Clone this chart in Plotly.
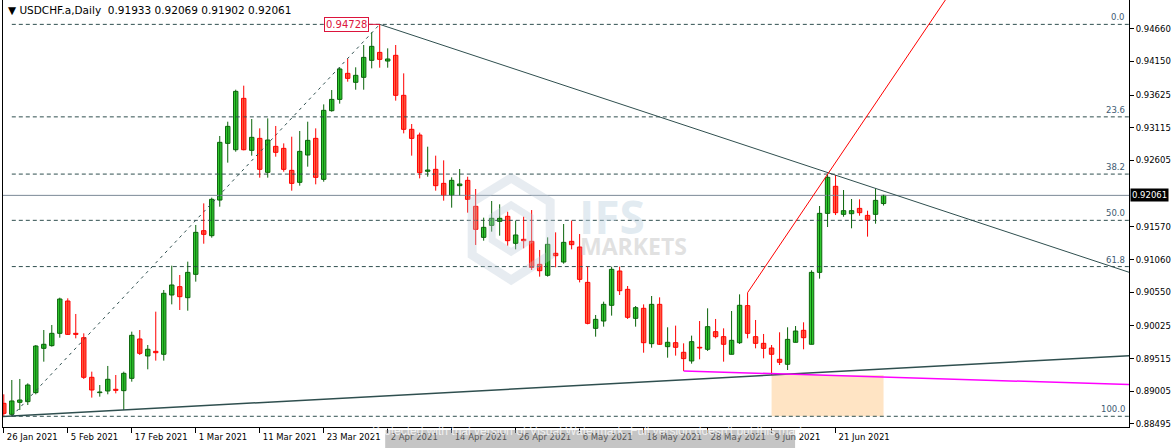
import plotly.graph_objects as go
import pandas as pd

# ---------------- data ----------------
dates = [d.strftime("%d %b %Y").lstrip("0") for d in pd.bdate_range("2021-01-26", "2021-06-29")]

opens = [0.88817, 0.88646, 0.88833, 0.88843, 0.88984, 0.89675, 0.89717, 0.89909, 0.90413, 0.89909,
         0.89841, 0.89223, 0.88984, 0.89010, 0.89036, 0.89015, 0.89207, 0.89821, 0.89556, 0.89628,
         0.89582, 0.90507, 0.90637, 0.90465, 0.90829, 0.91510, 0.91432, 0.91988, 0.92872, 0.92773,
         0.93574, 0.92763, 0.92950, 0.92420, 0.92825, 0.92794, 0.92451, 0.92264, 0.92690, 0.92950,
         0.92311, 0.93382, 0.93558, 0.93964, 0.93824, 0.93902, 0.94167, 0.94291, 0.94156, 0.94245,
         0.93621, 0.93091, 0.93002, 0.92436, 0.92467, 0.92248, 0.92061, 0.92212, 0.92295, 0.91890,
         0.91406, 0.91593, 0.91656, 0.91734, 0.91313, 0.91375, 0.91344, 0.90985, 0.90814, 0.91157,
         0.91021, 0.91344, 0.91255, 0.90704, 0.89987, 0.90101, 0.90346, 0.90881, 0.90595, 0.90143,
         0.90299, 0.89748, 0.90361, 0.89701, 0.89763, 0.89613, 0.89478, 0.89691, 0.89660, 0.89935,
         0.89857, 0.89582, 0.89763, 0.90341, 0.89857, 0.89753, 0.89680, 0.89504, 0.89426, 0.89769,
         0.89956, 0.89738, 0.90860, 0.91780, 0.92202, 0.91765, 0.91775, 0.91858, 0.91749, 0.91765,
         0.91933]
highs = [0.88958, 0.89181, 0.89197, 0.89129, 0.89727, 0.89961, 0.90039, 0.90465, 0.90455, 0.90211,
         0.89909, 0.89311, 0.89103, 0.89400, 0.89259, 0.89311, 0.89935, 0.89961, 0.89727, 0.90247,
         0.90585, 0.90964, 0.90819, 0.91027, 0.91599, 0.91936, 0.92025, 0.92987, 0.93210, 0.93709,
         0.93772, 0.93252, 0.93106, 0.93262, 0.93143, 0.92872, 0.92976, 0.93065, 0.93210, 0.93106,
         0.93480, 0.93704, 0.94058, 0.94188, 0.94058, 0.94406, 0.94603, 0.94728, 0.94354, 0.94406,
         0.93964, 0.93174, 0.93039, 0.92820, 0.92680, 0.92607, 0.92342, 0.92472, 0.92352, 0.92160,
         0.91713, 0.91973, 0.91921, 0.91806, 0.91666, 0.91728, 0.91832, 0.91209, 0.91406, 0.91484,
         0.91614, 0.91666, 0.91458, 0.90949, 0.90195, 0.90403, 0.90949, 0.90949, 0.90647, 0.90335,
         0.90361, 0.90491, 0.90470, 0.90003, 0.90029, 0.89753, 0.89873, 0.90101, 0.90299, 0.90133,
         0.89987, 0.90257, 0.90517, 0.90543, 0.90117, 0.89899, 0.89727, 0.89925, 0.90003, 0.90023,
         0.90081, 0.90892, 0.91895, 0.92389, 0.92378, 0.92144, 0.92004, 0.91999, 0.91822, 0.92170,
         0.92069]
lows = [0.88620, 0.88615, 0.88713, 0.88791, 0.88958, 0.89467, 0.89701, 0.89841, 0.89883, 0.89831,
        0.89197, 0.88906, 0.88921, 0.88958, 0.88973, 0.88713, 0.89155, 0.89571, 0.89348, 0.89483,
        0.89483, 0.90361, 0.90273, 0.90262, 0.90715, 0.91307, 0.91401, 0.91884, 0.92571, 0.92742,
        0.92763, 0.92680, 0.92337, 0.92337, 0.92664, 0.92430, 0.92134, 0.92212, 0.92508, 0.92233,
        0.92274, 0.93366, 0.93491, 0.93834, 0.93709, 0.93709, 0.94042, 0.94052, 0.94052, 0.93538,
        0.93028, 0.92680, 0.92326, 0.92352, 0.92134, 0.91978, 0.91869, 0.92061, 0.91791, 0.91287,
        0.91354, 0.91495, 0.91432, 0.91276, 0.91219, 0.91235, 0.90897, 0.90793, 0.90793, 0.90938,
        0.90995, 0.91219, 0.90704, 0.90049, 0.89857, 0.90013, 0.90185, 0.90507, 0.90133, 0.90013,
        0.89607, 0.89685, 0.89727, 0.89529, 0.89561, 0.89322, 0.89436, 0.89504, 0.89634, 0.89831,
        0.89467, 0.89582, 0.89743, 0.89831, 0.89675, 0.89519, 0.89259, 0.89415, 0.89337, 0.89769,
        0.89660, 0.89738, 0.90762, 0.91567, 0.91754, 0.91728, 0.91547, 0.91744, 0.91417, 0.91619,
        0.91902]
closes = [0.88661, 0.88854, 0.88869, 0.89103, 0.89711, 0.89738, 0.89909, 0.90444, 0.89893, 0.89893,
          0.89223, 0.89025, 0.88994, 0.89192, 0.89020, 0.89285, 0.89878, 0.89597, 0.89660, 0.89607,
          0.90533, 0.90663, 0.90481, 0.90860, 0.91484, 0.91453, 0.91999, 0.92888, 0.93137, 0.93683,
          0.92773, 0.92966, 0.92467, 0.92924, 0.92732, 0.92467, 0.92248, 0.92747, 0.92919, 0.92342,
          0.93387, 0.93558, 0.94032, 0.93886, 0.93933, 0.94213, 0.94385, 0.94182, 0.94188, 0.93621,
          0.93091, 0.92950, 0.92415, 0.92456, 0.92212, 0.92061, 0.92295, 0.92238, 0.91999, 0.91531,
          0.91562, 0.91703, 0.91703, 0.91354, 0.91443, 0.91354, 0.90938, 0.90886, 0.91297, 0.91120,
          0.91328, 0.91292, 0.90751, 0.90065, 0.90127, 0.90361, 0.90907, 0.90574, 0.90159, 0.90309,
          0.89763, 0.90361, 0.89738, 0.89769, 0.89691, 0.89514, 0.89779, 0.89680, 0.90013, 0.89857,
          0.89738, 0.89800, 0.90346, 0.89909, 0.89753, 0.89675, 0.89582, 0.89457, 0.89815, 0.89945,
          0.89841, 0.90860, 0.91780, 0.92342, 0.91791, 0.91822, 0.91822, 0.91791, 0.91677, 0.91983,
          0.92061]

tick_labels = ["26 Jan 2021", "5 Feb 2021", "17 Feb 2021", "1 Mar 2021", "11 Mar 2021",
               "23 Mar 2021", "2 Apr 2021", "14 Apr 2021", "26 Apr 2021", "6 May 2021",
               "18 May 2021", "28 May 2021", "9 Jun 2021", "21 Jun 2021"]
price_ticks = [0.94660, 0.94150, 0.93625, 0.93115, 0.92605, 0.91570, 0.91060,
               0.90550, 0.90025, 0.89515, 0.89005, 0.88495]
fib_ratios = [0.0, 23.6, 38.2, 50.0, 61.8, 100.0]

# anchors (bar index) of the drawn objects
fib_low_bar, fib_high_bar = 1, 47
resist_bars = [47, 103]
resist_prices = [0.94728, 0.92417]
support_bars = [15, 96]
magenta_bars = [85, 110]
magenta_prices = [0.89322, 0.89227]
red_ray_bars = [93, 103]
rect_bars = [96, 110]

symbol = "USDCHF.a,Daily"

# ---------------- figure ----------------
n = len(opens)
idx = list(range(n))
X_MIN, X_MAX = -0.1, 140.69
Y_MIN, Y_MAX = 0.88448, 0.95108

BULL_FILL, BULL_LINE = "#32CD32", "#0A640A"
BEAR_FILL, BEAR_LINE = "#FF6347", "#FF0000"
SLATE = "#2F4F4F"

fig = go.Figure()

fib_hi = highs[fib_high_bar]
fib_lo = lows[fib_low_bar]
fib_levels = [fib_hi - r / 100.0 * (fib_hi - fib_lo) for r in fib_ratios]

# fib horizontal levels
for lv in fib_levels:
    fig.add_trace(go.Scatter(x=[fib_low_bar, X_MAX + 1], y=[lv, lv], mode="lines",
                             line=dict(color=SLATE, width=1, dash="4px,3px"), hoverinfo="skip"))
# fib diagonal
fig.add_trace(go.Scatter(x=[fib_low_bar, fib_high_bar], y=[fib_lo, fib_hi], mode="lines",
                         line=dict(color=SLATE, width=1, dash="3px,4px"), hoverinfo="skip"))
# current price line
fig.add_trace(go.Scatter(x=[X_MIN - 1, X_MAX + 1], y=[closes[-1], closes[-1]], mode="lines",
                         line=dict(color="#7A8896", width=1), hoverinfo="skip"))

# wicks
bull = [i for i in idx if closes[i] >= opens[i]]
bear = [i for i in idx if closes[i] < opens[i]]
for group, col in ((bull, BULL_LINE), (bear, BEAR_LINE)):
    xs, ys = [], []
    for i in group:
        xs += [i, i, None]
        ys += [lows[i], highs[i], None]
    fig.add_trace(go.Scatter(x=xs, y=ys, mode="lines", line=dict(color=col, width=1),
                             hoverinfo="skip"))
# bodies
MIN_H = 0.00010
for group, fill, col in ((bull, BULL_FILL, BULL_LINE), (bear, BEAR_FILL, BEAR_LINE)):
    base = [min(opens[i], closes[i]) for i in group]
    hgt = [max(abs(closes[i] - opens[i]), MIN_H) for i in group]
    fig.add_trace(go.Bar(x=group, base=base, y=hgt, width=0.55,
                         marker=dict(color=fill, line=dict(color=col, width=1)),
                         hoverinfo="skip"))


def line_through(b, p, x_end):
    slope = (p[1] - p[0]) / (b[1] - b[0])
    return p[0] + slope * (x_end - b[0])


# descending trend line
fig.add_trace(go.Scatter(x=[resist_bars[0], X_MAX + 1],
                         y=[resist_prices[0], line_through(resist_bars, resist_prices, X_MAX + 1)],
                         mode="lines", line=dict(color=SLATE, width=1), hoverinfo="skip"))
# ascending support line
sup_p = [lows[b] for b in support_bars]
fig.add_trace(go.Scatter(x=[X_MIN - 1, X_MAX + 1],
                         y=[line_through(support_bars, sup_p, X_MIN - 1),
                            line_through(support_bars, sup_p, X_MAX + 1)],
                         mode="lines", line=dict(color=SLATE, width=1.5), hoverinfo="skip"))
# magenta line
fig.add_trace(go.Scatter(x=[magenta_bars[0], X_MAX + 1],
                         y=[magenta_prices[0], line_through(magenta_bars, magenta_prices, X_MAX + 1)],
                         mode="lines", line=dict(color="#FF00FF", width=1.5), hoverinfo="skip"))
# red ray
red_p = [highs[b] for b in red_ray_bars]
fig.add_trace(go.Scatter(x=[red_ray_bars[0], X_MAX + 30],
                         y=[red_p[0], line_through(red_ray_bars, red_p, X_MAX + 30)],
                         mode="lines", line=dict(color="#FF0000", width=1), hoverinfo="skip"))

# rectangle
fig.add_shape(type="rect", xref="x", yref="y", x0=rect_bars[0], x1=rect_bars[1],
              y0=fib_lo, y1=lows[rect_bars[0]], fillcolor="#FFE4C4", line=dict(width=0),
              layer="below")

FONT = "DejaVu Sans"
ann = []
for r, lv in zip(fib_ratios, fib_levels):
    ann.append(dict(xref="paper", yref="y", x=0.998, y=lv, xanchor="right", yanchor="bottom",
                    text=f"{r:.1f}", showarrow=False, font=dict(family=FONT, size=8.5, color="#3E5A72")))
# header
ann.append(dict(xref="paper", yref="paper", x=0.003, y=1 - 10 / 427, xanchor="left", yanchor="middle",
                text=f"▼ {symbol}  {opens[-1]:.5f} {highs[-1]:.5f} {lows[-1]:.5f} {closes[-1]:.5f}",
                showarrow=False, font=dict(family=FONT, size=10.5, color="#000000")))
# high price label
ann.append(dict(xref="x", yref="y", x=fib_high_bar, y=fib_hi, text=f"{fib_hi:.5f}",
                showarrow=True, arrowhead=0, arrowwidth=1, arrowcolor="#DC143C", ax=-11, ay=0,
                xanchor="right", standoff=0, bordercolor="#DC143C", borderwidth=1, borderpad=1,
                bgcolor="#FFFFFF", font=dict(family=FONT, size=10, color="#DC143C")))
# current price box
ann.append(dict(xref="paper", yref="y", x=1, y=closes[-1], xanchor="left", yanchor="middle",
                text=f"{closes[-1]:.5f}", showarrow=False, bgcolor="#000000", borderpad=1, xshift=1,
                font=dict(family=FONT, size=8.5, color="#FFFFFF")))
# watermark
ann.append(dict(xref="paper", yref="paper", x=(612 - 2.7) / 1126.3, y=1 - 216 / 427, text="<b>IFS</b>",
                showarrow=False, font=dict(family="Open Sans", size=46, color="rgba(190,210,225,0.45)")))
ann.append(dict(xref="paper", yref="paper", x=(633 - 2.7) / 1126.3, y=1 - 246 / 427, text="<b>MARKETS</b>",
                showarrow=False, font=dict(family="Open Sans", size=23, color="rgba(200,200,200,0.55)")))
ann.append(dict(xref="paper", yref="paper", x=(590 - 2.7) / 1126.3, y=1 - 440 / 427,
                text="Protected with trial version of Visual Watermark. Full version doesn't put this mark.",
                showarrow=False, font=dict(family="Liberation Sans", size=12, color="rgba(255,255,255,0.75)")))


def px(x, y):
    return (x - 2.7) / 1126.3, 1 - y / 427


def path(points):
    s = ""
    for k, (a, b) in enumerate(points):
        u, v = px(a, b)
        s += ("M" if k == 0 else "L") + f"{u:.5f},{v:.5f} "
    return s + "Z"


shapes_wm = [
    dict(type="path", xref="paper", yref="paper",
         path=path([(511, 178), (550, 202), (550, 255), (511, 280), (472, 255), (472, 202)]),
         line=dict(color="rgba(185,200,215,0.35)", width=9), fillcolor="rgba(0,0,0,0)", layer="above"),
    dict(type="path", xref="paper", yref="paper",
         path=path([(511, 205), (530, 217), (530, 240), (511, 252), (492, 240), (492, 217)]),
         line=dict(color="rgba(185,200,215,0.35)", width=7), fillcolor="rgba(0,0,0,0)", layer="above"),
    dict(type="rect", xref="paper", yref="paper", x0=px(385, 0)[0], x1=px(795, 0)[0],
         y0=px(0, 452)[1], y1=px(0, 430)[1], fillcolor="rgba(150,150,150,0.55)",
         line=dict(width=0), layer="above"),
]
for s in shapes_wm:
    fig.add_shape(**s)

tickvals = [dates.index(t) for t in tick_labels]

fig.update_layout(
    width=1175, height=448, margin=dict(l=3, r=46, t=0, b=21, autoexpand=False),
    paper_bgcolor="#FFFFFF", plot_bgcolor="#FFFFFF", showlegend=False,
    barmode="overlay", annotations=ann,
    xaxis=dict(range=[X_MIN, X_MAX], tickvals=tickvals, ticktext=tick_labels, ticks="outside",
               ticklen=5, tickcolor="#000000", showline=True, linecolor="#000000", linewidth=1,
               showgrid=False, zeroline=False, ticklabelposition="outside right", tickangle=0,
               ticklabelstandoff=2, ticklabelshift=2, automargin=False,
               tickfont=dict(family=FONT, size=8.5, color="#000000"), fixedrange=True),
    yaxis=dict(range=[Y_MIN, Y_MAX], side="right", tickvals=price_ticks,
               ticktext=[f"{v:.5f}" for v in price_ticks], ticks="outside", ticklen=4,
               tickcolor="#000000", showline=True, mirror=True, linecolor="#000000", linewidth=1,
               showgrid=False, zeroline=False, tickfont=dict(family=FONT, size=8.5, color="#000000"),
               automargin=False, fixedrange=True),
)

fig.write_html("out.html", config={"displayModeBar": False},
               post_script="document.body.style.margin='0';document.body.style.overflow='hidden';")
